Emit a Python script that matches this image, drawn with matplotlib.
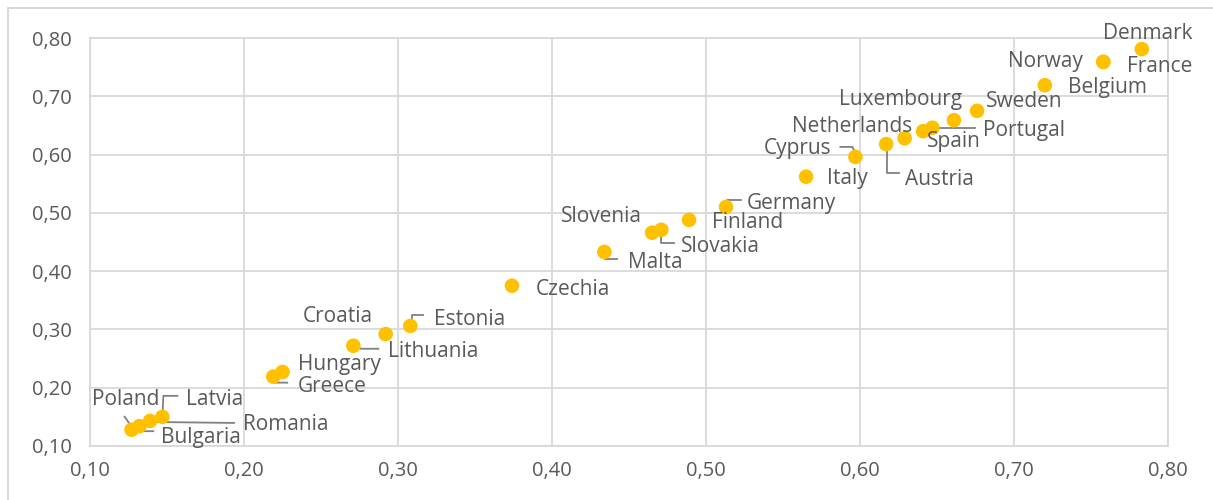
import matplotlib
matplotlib.use("Agg")
import matplotlib.pyplot as plt
from matplotlib.patches import Rectangle
import numpy as np

# Country values (x, y)
countries = ["Denmark", "Norway", "France", "Belgium", "Sweden", "Luxembourg",
             "Portugal", "Netherlands", "Spain", "Austria", "Cyprus", "Italy",
             "Germany", "Finland", "Slovakia", "Slovenia", "Malta", "Czechia",
             "Estonia", "Croatia", "Lithuania", "Hungary", "Greece", "Latvia",
             "Romania", "Bulgaria", "Poland"]
x_vals = [0.783, 0.758, 0.758, 0.720, 0.676, 0.661,
          0.647, 0.641, 0.629, 0.617, 0.597, 0.565,
          0.513, 0.489, 0.471, 0.465, 0.434, 0.374,
          0.308, 0.292, 0.271, 0.225, 0.219, 0.147,
          0.139, 0.132, 0.127]
y_vals = [0.781, 0.759, 0.759, 0.719, 0.675, 0.659,
          0.646, 0.640, 0.628, 0.618, 0.596, 0.562,
          0.510, 0.488, 0.471, 0.466, 0.433, 0.375,
          0.306, 0.292, 0.272, 0.227, 0.219, 0.150,
          0.143, 0.134, 0.128]

ticks = [0.10, 0.20, 0.30, 0.40, 0.50, 0.60, 0.70, 0.80]

# label placement in pixels from the point: (dx, dy down, alignment)
label_pos = {
    "Denmark": (6, -18, "center"), "Norway": (-20, -2, "right"),
    "France": (24, 3, "left"), "Belgium": (23, 0, "left"),
    "Sweden": (9, -11, "left"), "Luxembourg": (-53, -23, "center"),
    "Portugal": (51, 1, "left"), "Netherlands": (-11, -7, "right"),
    "Spain": (22, 1, "left"), "Austria": (19, 33, "left"),
    "Cyprus": (-24, -10, "right"), "Italy": (21, 0, "left"),
    "Germany": (21, -6, "left"), "Finland": (23, 1, "left"),
    "Slovakia": (20, 15, "left"), "Slovenia": (-10, -18, "right"),
    "Malta": (24, 9, "left"), "Czechia": (24, 2, "left"),
    "Estonia": (24, -8, "left"), "Croatia": (-48, -20, "center"),
    "Lithuania": (35, 4, "left"), "Hungary": (16, -9, "left"),
    "Greece": (24, 8, "left"), "Latvia": (24, -19, "left"),
    "Romania": (93, 2, "left"), "Bulgaria": (22, 9, "left"),
    "Poland": (-6, -32, "center"),
}
# leader lines, pixel vertices relative to the point
leaders = {
    "Portugal": [(0, 0), (43, 0)],
    "Austria": [(1, 0), (1, 29), (13, 29)],
    "Cyprus": [(-15, -10), (-3, -10), (0, -4)],
    "Germany": [(1, 0), (1, -7), (15, -7)],
    "Slovakia": [(0, 0), (0, 13), (13, 13)],
    "Malta": [(1, 0), (1, 7), (13, 7)],
    "Estonia": [(2, 0), (2, -11), (13, -11)],
    "Lithuania": [(0, 0), (8, 3), (25, 3)],
    "Greece": [(1, 0), (2, 6), (14, 6)],
    "Latvia": [(0, 0), (1, -21), (15, -21)],
    "Romania": [(0, 1), (84, 2)],
    "Bulgaria": [(1, 0), (2, 5), (14, 5)],
    "Poland": [(-7, -13), (0, -3)],
}

txt_col = "#595959"
grid_col = "#d9d9d9"
plt.rcParams["font.family"] = ["Open Sans", "DejaVu Sans"]

fig = plt.figure(figsize=(12.13, 5.0), dpi=100)
ax = fig.add_axes([90 / 1213, 1 - 446 / 500, 1078 / 1213, 408 / 500])

ax.set_xlim(0.10, 0.80)
ax.set_ylim(0.10, 0.80)
ax.set_xticks(ticks)
ax.set_yticks(ticks)
ax.set_xticklabels(["{:.2f}".format(t).replace(".", ",") for t in ticks])
ax.set_yticklabels(["{:.2f}".format(t).replace(".", ",") for t in ticks])
ax.tick_params(length=0, labelsize=14.5, labelcolor=txt_col)
ax.tick_params(axis="y", pad=13)
ax.tick_params(axis="x", pad=11)
ax.grid(True, color=grid_col, linewidth=1.3)
ax.set_axisbelow(True)
for s in ax.spines.values():
    s.set_color(grid_col)
    s.set_linewidth(1.3)

ax.scatter(x_vals, y_vals, s=110, color="#FFC000", edgecolor="none", zorder=3)

# leader lines: pixel offsets turned back into data coords
for name, verts in leaders.items():
    i = countries.index(name)
    base = ax.transData.transform((x_vals[i], y_vals[i]))
    pts = np.array([base + np.array([dx, -dy]) for dx, dy in verts])
    d = ax.transData.inverted().transform(pts)
    ax.plot(d[:, 0], d[:, 1], color="#808080", linewidth=1.3, zorder=2,
            clip_on=False)

for name, x, y in zip(countries, x_vals, y_vals):
    dx, dy, ha = label_pos[name]
    ax.annotate(name, (x, y), xytext=(dx * 0.72, -(dy + 2) * 0.72),
                textcoords="offset points", ha=ha, va="center",
                fontsize=15, color=txt_col, zorder=4, annotation_clip=False)

# chart area border
fig.add_artist(Rectangle((8 / 1213, -0.1), 1.2, 1 - 8 / 500 + 0.1,
                         transform=fig.transFigure, fill=False,
                         edgecolor=grid_col, linewidth=1.5))

fig.savefig("out.png", dpi=100, facecolor="white")
